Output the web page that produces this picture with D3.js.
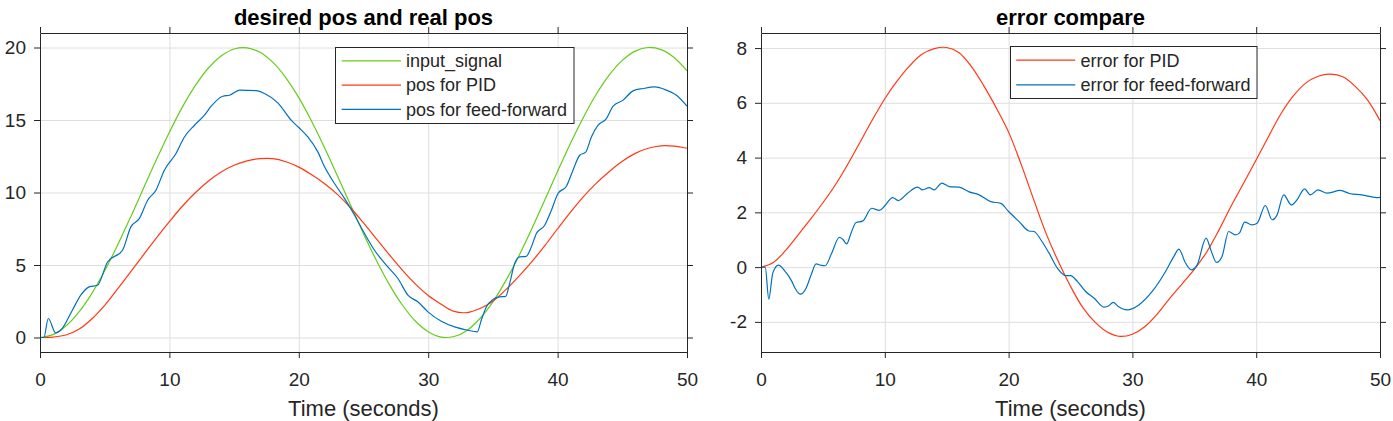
<!DOCTYPE html>
<html>
<head>
<meta charset="utf-8">
<title>desired pos and real pos / error compare</title>
<script src="https://d3js.org/d3.v7.min.js"></script>
<style>
  body { margin: 0; background: #fff; }
  svg text { font-family: "Liberation Sans", Arial, Helvetica, sans-serif; }
</style>
</head>
<body>
<svg width="1393" height="421"></svg>
<script>
// time base for the smooth curves (seconds)
const timeSteps = [0, 1, 2, 3, 4, 5, 6, 7, 8, 9, 10, 11, 12, 13, 14, 15, 16, 17, 18, 19, 20,
    21, 22, 23, 24, 25, 26, 27, 28, 29, 30, 31, 32, 33, 34, 35, 36, 37, 38, 39, 40,
    41, 42, 43, 44, 45, 46, 47, 48, 49, 50];

const inputSignal = [0, 0.2, 0.79, 1.75, 3.03, 4.6, 6.38, 8.3, 10.29, 12.27, 14.16,
    15.89, 17.37, 18.57, 19.42, 19.9, 19.98, 19.67, 18.97, 17.91, 16.54,
    14.9, 13.07, 11.12, 9.13, 7.16, 5.31, 3.65, 2.24, 1.14, 0.4,
    0.03, 0.07, 0.49, 1.31, 2.46, 3.92, 5.61, 7.48, 9.46, 11.46,
    13.4, 15.19, 16.79, 18.11, 19.11, 19.75, 20, 19.85, 19.31, 18.39];

const posPID = [0, 0.03, 0.17, 0.57, 1.28, 2.22, 3.35, 4.52, 5.7, 6.87, 7.99,
    9.05, 9.98, 10.78, 11.42, 11.88, 12.18, 12.33, 12.33, 12.12, 11.75,
    11.22, 10.6, 9.85, 8.95, 7.9, 6.8, 5.7, 4.65, 3.7, 2.9,
    2.3, 1.8, 1.72, 2.0, 2.5, 3.3, 4.22, 5.22, 6.32, 7.5,
    8.65, 9.72, 10.65, 11.45, 12.15, 12.7, 13.05, 13.22, 13.2, 13.05];

const errPID = [0, 0.17, 0.62, 1.18, 1.75, 2.35, 3.0, 3.75, 4.56, 5.38, 6.15,
    6.8, 7.35, 7.77, 7.98, 8.02, 7.83, 7.32, 6.62, 5.82, 4.93,
    3.77, 2.5, 1.26, 0.22, -0.7, -1.48, -2.02, -2.38, -2.53, -2.45,
    -2.18, -1.72, -1.15, -0.62, -0.08, 0.55, 1.36, 2.25, 3.08, 3.92,
    4.77, 5.6, 6.25, 6.72, 6.97, 7.05, 6.95, 6.6, 6.1, 5.35];

// feed-forward position, sampled where the curve bends
const ffPosTime = [0, 0.3, 0.64, 1.21, 1.6, 2.5, 3.15, 3.8, 4.44, 5.22, 6.38, 7.02, 7.67,
    8.32, 8.96, 9.61, 10.51, 11.16, 11.94, 12.71, 13.23, 14.13, 14.65, 15.43, 16.71,
    17.35, 18.38, 19.41, 20.0, 20.7, 21.47, 21.99, 22.76, 23.53, 24.31, 25.08, 25.85,
    26.88, 27.66, 28.43, 29.2, 29.98, 31.01, 32.04, 33.07, 33.79, 34.1, 34.49, 35.0,
    35.5, 35.99, 36.29, 36.68, 37.07, 37.58, 37.97, 38.36, 39.0, 39.52, 40.03, 40.68,
    41.19, 41.71, 42.17, 42.61, 43.13, 43.77, 44.29, 45.06, 45.83, 46.61, 47.51,
    48.41, 49.19, 50];
const ffPos = [0, 0, 1.31, 0.32, 0.5, 1.88, 2.92, 3.49, 3.6, 5.21, 6.02, 7.63, 8.2,
    9.47, 10.16, 11.54, 12.69, 13.83, 14.64, 15.33, 15.95, 16.64, 16.71, 17.06, 17.02,
    16.83, 16.18, 14.99, 14.48, 13.83, 12.8, 11.77, 10.62, 9.59, 8.43, 7.17, 6.02,
    4.87, 4.07, 2.92, 2.46, 1.77, 1.12, 0.73, 0.5, 0.39, 1.19, 2.11, 2.62,
    2.8, 2.84, 3.72, 5.1, 5.56, 5.6, 6.25, 7.17, 7.74, 8.78, 9.93, 10.43,
    11.54, 12.57, 12.78, 13.83, 14.64, 15.1, 15.95, 16.37, 17.01, 17.17, 17.28,
    17.06, 16.71, 15.95];

// feed-forward error
const ffErrTime = [0, 0.34, 0.63, 0.95, 1.41, 1.9, 2.49, 2.75, 3.19, 3.64, 4.05, 4.45,
    4.8, 5.18, 5.71, 6.33, 6.6, 6.92, 7.27, 7.68, 8.21, 8.94, 9.56, 10.0, 10.63,
    11.09, 11.84, 12.65, 13.05, 13.59, 13.99, 14.61, 15.2, 16.0, 16.81, 17.62, 18.56,
    19.37, 20.0, 20.85, 21.65, 22.06, 22.6, 23.27, 23.94, 24.61, 25.0, 25.55, 26.22,
    26.9, 27.7, 28.1, 28.45, 28.86, 29.58, 30.52, 31.6, 32.68, 33.35, 33.75, 34.29,
    34.77, 35.23, 35.95, 36.38, 36.79, 37.24, 37.78, 38.32, 38.64, 39.07, 39.66,
    40.07, 40.74, 41.28, 41.68, 42.22, 42.84, 43.3, 43.91, 44.37, 44.99, 45.71,
    46.79, 47.59, 48.53, 49.74, 50];
const ffErr = [0, 0, -1.17, -0.22, 0.07, -0.13, -0.52, -0.77, -0.99, -0.77, -0.28, 0.12,
    0.07, 0.05, 0.51, 1.09, 1.02, 0.85, 1.24, 1.63, 1.68, 2.15, 2.07, 2.24, 2.54,
    2.43, 2.7, 2.92, 2.82, 2.9, 2.82, 3.07, 2.94, 2.92, 2.75, 2.64, 2.39,
    2.33, 2.03, 1.66, 1.32, 1.3, 1.0, 0.51, -0.04, -0.31, -0.31, -0.52, -0.89,
    -1.13, -1.46, -1.41, -1.29, -1.44, -1.56, -1.38, -0.89, -0.16, 0.39, 0.66, 0.15,
    -0.1, 0.08, 1.06, 0.57, 0.17, 0.39, 1.3, 1.18, 1.24, 1.64, 1.54,
    1.6, 2.25, 1.73, 1.9, 2.64, 2.27, 2.46, 2.86, 2.64, 2.82, 2.7,
    2.8, 2.68, 2.64, 2.54, 2.55];

const xTicks = [0, 10, 20, 30, 40, 50];
const posTicks = [0, 5, 10, 15, 20];
const errTicks = [-2, 0, 2, 4, 6, 8];

const GREEN = "#66cc1a", RED = "#ff3814", BLUE = "#0072bd";
const INK = "#262626";

const svg = d3.select("svg");

const panels = [
    {
        title: "desired pos and real pos",
        left: 40, right: 687, top: 33, bottom: 352,
        yDomain: [-1, 21], yTicks: posTicks,
        series: [
            {name: "input_signal", t: timeSteps, v: inputSignal, color: GREEN, smooth: true},
            {name: "pos for PID", t: timeSteps, v: posPID, color: RED, smooth: true},
            {name: "pos for feed-forward", t: ffPosTime, v: ffPos, color: BLUE}
        ],
        legend: {x: 335.5, y: 47.5, w: 238.5, h: 76, row0: 13.3, rowStep: 24.3, lx1: 6.2, lx2: 65.5, tx: 70.5}
    },
    {
        title: "error compare",
        left: 761, right: 1380, top: 33, bottom: 352,
        yDomain: [-3.1, 8.55], yTicks: errTicks,
        series: [
            {name: "error for PID", t: timeSteps, v: errPID, color: RED, smooth: true},
            {name: "error for feed-forward", t: ffErrTime, v: ffErr, color: BLUE}
        ],
        legend: {x: 1010.5, y: 46.5, w: 246.5, h: 52, row0: 13.7, rowStep: 24.6, lx1: 5.7, lx2: 64.7, tx: 70}
    }
];

panels.forEach(p => {
    const x = d3.scaleLinear().domain([0, 50]).range([p.left, p.right]);
    const y = d3.scaleLinear().domain(p.yDomain).range([p.bottom, p.top]);
    const g = svg.append("g");

    // grid
    g.append("g").selectAll("line")
        .data(xTicks.filter(d => d > 0 && d < 50))
        .join("line")
        .attr("x1", d => x(d) + 0.5).attr("x2", d => x(d) + 0.5)
        .attr("y1", p.top).attr("y2", p.bottom)
        .attr("stroke", "#dedede").attr("stroke-width", 1);
    g.append("g").selectAll("line")
        .data(p.yTicks)
        .join("line")
        .attr("x1", p.left).attr("x2", p.right)
        .attr("y1", d => y(d) + 0.5).attr("y2", d => y(d) + 0.5)
        .attr("stroke", "#dedede").attr("stroke-width", 1);

    // data lines
    p.series.forEach(s => {
        const line = d3.line()
            .x(d => x(d[0]))
            .y(d => y(d[1]))
            .curve(s.smooth ? d3.curveCatmullRom : d3.curveMonotoneX);
        g.append("path")
            .datum(s.t.map((t, i) => [t, s.v[i]]))
            .attr("d", line)
            .attr("fill", "none")
            .attr("stroke", s.color)
            .attr("stroke-width", 1.2);
    });

    // axes on all four sides, ticks pointing out
    const styleAxis = sel => {
        sel.attr("font-family", null).attr("font-size", null);
        sel.selectAll("path, line").attr("stroke", INK);
        sel.selectAll("text").attr("fill", INK).style("font-size", "19px");
    };
    const plain = d => String(d);
    g.append("g").attr("transform", `translate(0,${p.bottom})`)
        .call(d3.axisBottom(x).tickValues(xTicks).tickSize(6).tickSizeOuter(0).tickPadding(15).tickFormat(plain))
        .call(styleAxis);
    g.append("g").attr("transform", `translate(0,${p.top})`)
        .call(d3.axisTop(x).tickValues(xTicks).tickSize(6).tickSizeOuter(0).tickFormat(""))
        .call(styleAxis);
    g.append("g").attr("transform", `translate(${p.left},0)`)
        .call(d3.axisLeft(y).tickValues(p.yTicks).tickSize(6).tickSizeOuter(0).tickPadding(8).tickFormat(plain))
        .call(styleAxis);
    g.append("g").attr("transform", `translate(${p.right},0)`)
        .call(d3.axisRight(y).tickValues(p.yTicks).tickSize(6).tickSizeOuter(0).tickFormat(""))
        .call(styleAxis);

    // title and x label
    g.append("text")
        .attr("x", (p.left + p.right) / 2).attr("y", 25)
        .attr("text-anchor", "middle")
        .style("font-size", "22px").style("font-weight", "bold")
        .attr("fill", "#000")
        .text(p.title);
    g.append("text")
        .attr("x", (p.left + p.right) / 2).attr("y", 416)
        .attr("text-anchor", "middle")
        .style("font-size", "22px")
        .attr("fill", INK)
        .text("Time (seconds)");

    // legend
    const L = p.legend;
    const lg = g.append("g").attr("transform", `translate(${L.x},${L.y})`);
    lg.append("rect")
        .attr("width", L.w).attr("height", L.h)
        .attr("fill", "#fff").attr("stroke", INK).attr("stroke-width", 1);
    const rows = lg.selectAll(".row").data(p.series).join("g")
        .attr("transform", (d, i) => `translate(0,${L.row0 + i * L.rowStep})`);
    rows.append("line")
        .attr("x1", L.lx1).attr("x2", L.lx2)
        .attr("stroke", d => d.color).attr("stroke-width", 1.2);
    rows.append("text")
        .attr("x", L.tx).attr("dy", "0.35em")
        .style("font-size", "18px")
        .attr("fill", INK)
        .text(d => d.name);
});
</script>
</body>
</html>
